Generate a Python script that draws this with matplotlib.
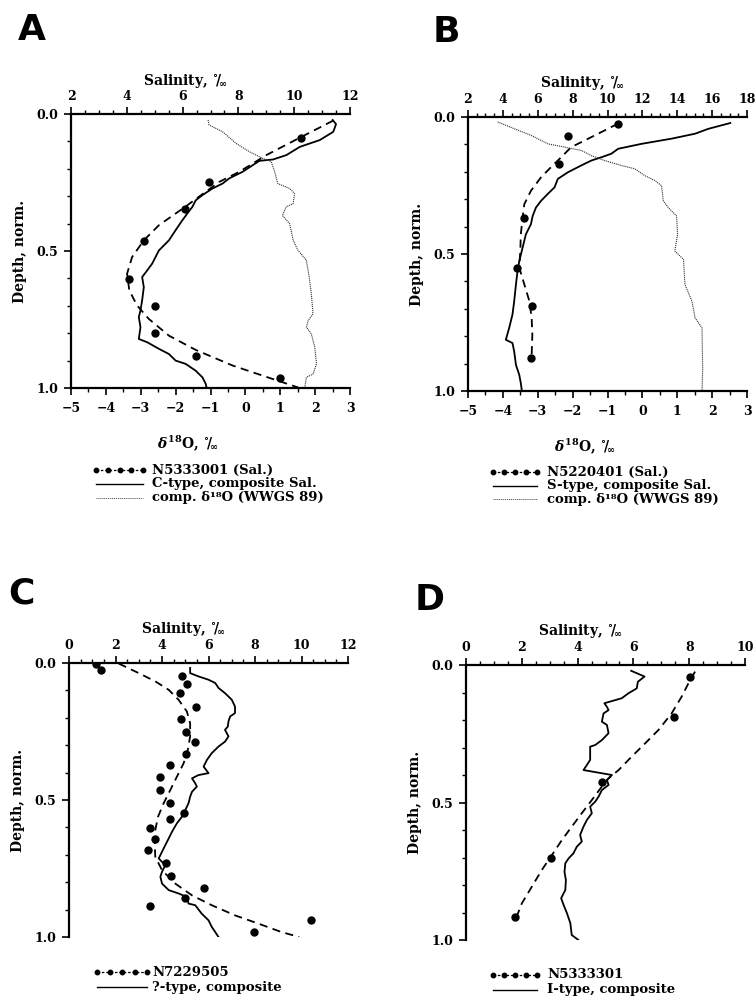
import matplotlib
matplotlib.use('Agg')
import matplotlib.pyplot as plt
from matplotlib.ticker import MultipleLocator, FormatStrFormatter
from matplotlib.lines import Line2D

plt.rcParams['font.family'] = ['DejaVu Serif']
plt.rcParams['mathtext.fontset'] = 'dejavuserif'
plt.rcParams['font.weight'] = 'bold'

# ---------------- Panel A ----------------
a_dot_sal = [10.23, 6.93, 6.09, 4.61, 4.07, 5.00, 5.00, 6.47, 9.48]
a_dot_dep = [0.089, 0.248, 0.345, 0.463, 0.604, 0.701, 0.799, 0.884, 0.963]
a_fit_sal = [11.40, 10.23, 9.00, 8.03, 7.31, 6.09, 5.15, 4.61, 4.19, 4.01, 4.09, 4.37,
             4.79, 5.51, 6.47, 7.79, 8.99, 10.14]
a_fit_dep = [0.024, 0.085, 0.150, 0.211, 0.248, 0.339, 0.406, 0.461, 0.522, 0.583, 0.644,
             0.699, 0.748, 0.809, 0.861, 0.918, 0.959, 0.998]
a_comp_sal = [11.38, 11.50, 11.40, 10.92, 10.20, 9.72, 9.24, 8.75, 8.51, 8.15, 7.67, 7.43,
              7.07, 6.71, 6.47, 6.35, 6.17, 5.99, 5.75, 5.51, 5.15, 5.03, 4.91, 4.73, 4.55,
              4.61, 4.55, 4.49, 4.43, 4.49, 4.43, 4.73, 5.15, 5.51, 5.75, 6.11, 6.47, 6.71,
              6.83, 6.86]
a_comp_dep = [0.022, 0.037, 0.065, 0.095, 0.120, 0.150, 0.166, 0.171, 0.187, 0.211, 0.235,
              0.254, 0.272, 0.296, 0.315, 0.339, 0.363, 0.388, 0.424, 0.461, 0.498, 0.522,
              0.546, 0.571, 0.595, 0.632, 0.680, 0.717, 0.741, 0.778, 0.821, 0.833, 0.857,
              0.876, 0.900, 0.912, 0.937, 0.961, 0.985, 1.000]
a_d18_val = [-1.07, -1.04, -0.65, -0.27, 0.12, 0.50, 0.74, 0.84, 0.93, 1.27, 1.41, 1.37,
             1.17, 1.06, 1.27, 1.37, 1.51, 1.75, 1.83, 1.89, 1.94, 1.80, 1.75, 1.89, 1.99,
             2.04, 1.94, 1.75, 1.70]
a_d18_dep = [0.022, 0.040, 0.065, 0.107, 0.138, 0.162, 0.174, 0.211, 0.254, 0.272, 0.290,
             0.327, 0.339, 0.370, 0.400, 0.461, 0.498, 0.534, 0.595, 0.656, 0.729, 0.754,
             0.778, 0.802, 0.851, 0.912, 0.949, 0.961, 1.000]

# ---------------- Panel B ----------------
b_dot_sal = [10.61, 7.76, 7.21, 5.19, 4.80, 5.67, 5.61]
b_dot_dep = [0.027, 0.071, 0.171, 0.367, 0.550, 0.688, 0.880]
b_fit_sal = [10.61, 9.65, 8.68, 7.92, 7.34, 6.76, 6.19, 5.61, 5.23, 5.13, 5.03, 5.00, 4.94,
             5.23, 5.52, 5.65, 5.69, 5.65]
b_fit_dep = [0.024, 0.055, 0.086, 0.110, 0.147, 0.183, 0.220, 0.269, 0.318, 0.367, 0.428,
             0.489, 0.550, 0.611, 0.672, 0.733, 0.795, 0.868]
b_comp_sal = [17.04, 15.79, 15.02, 13.68, 11.95, 10.61, 10.22, 9.65, 9.07, 8.49, 7.72, 7.15,
              6.96, 6.57, 6.19, 5.90, 5.71, 5.61, 5.32, 5.13, 4.94, 4.84, 4.75, 4.65, 4.55,
              4.36, 4.17, 4.55, 4.65, 4.75, 4.94, 5.03, 5.09]
b_comp_dep = [0.022, 0.043, 0.061, 0.079, 0.098, 0.116, 0.134, 0.147, 0.159, 0.177, 0.202,
              0.226, 0.257, 0.281, 0.306, 0.330, 0.361, 0.391, 0.428, 0.477, 0.526, 0.562,
              0.611, 0.672, 0.721, 0.770, 0.813, 0.825, 0.856, 0.905, 0.941, 0.972, 1.000]
b_d18_val = [-4.15, -3.67, -3.19, -2.71, -2.23, -1.75, -1.46, -1.08, -0.60, -0.22, 0.07,
             0.36, 0.55, 0.60, 0.74, 0.98, 1.01, 0.93, 1.18, 1.22, 1.42, 1.51, 1.71, 1.72,
             1.73, 1.71]
b_d18_dep = [0.018, 0.043, 0.067, 0.098, 0.110, 0.122, 0.141, 0.159, 0.177, 0.189, 0.214,
             0.232, 0.251, 0.306, 0.330, 0.361, 0.428, 0.489, 0.520, 0.611, 0.672, 0.733,
             0.770, 0.856, 0.917, 1.000]

# ---------------- Panel C ----------------
c_dot_sal = [1.14, 1.37, 4.86, 5.07, 4.76, 5.47, 4.83, 5.04, 5.43, 5.04, 4.36, 3.90, 3.90,
             4.33, 4.93, 4.33, 3.50, 3.69, 3.40, 4.19, 4.40, 5.80, 5.00, 3.50, 10.43, 7.97]
c_dot_dep = [0.002, 0.027, 0.049, 0.076, 0.111, 0.161, 0.205, 0.250, 0.290, 0.333, 0.373,
             0.416, 0.463, 0.510, 0.546, 0.571, 0.601, 0.644, 0.684, 0.729, 0.776, 0.821,
             0.857, 0.888, 0.937, 0.983]
c_fit_sal = [2.14, 3.00, 3.71, 4.29, 4.71, 5.07, 5.21, 5.21, 5.11, 4.93, 4.64, 4.36, 4.07,
             3.83, 3.71, 3.69, 3.71, 4.00, 4.57, 5.29, 6.14, 7.14, 8.14, 9.14, 9.90]
c_fit_dep = [0.002, 0.037, 0.067, 0.098, 0.134, 0.177, 0.220, 0.268, 0.317, 0.366, 0.415,
             0.463, 0.512, 0.561, 0.610, 0.659, 0.707, 0.756, 0.805, 0.848, 0.884, 0.921,
             0.951, 0.982, 1.000]
c_comp_sal = [5.21, 5.21, 5.57, 6.00, 6.29, 6.43, 6.71, 7.00, 7.14, 7.14, 6.93, 6.86, 6.83,
              6.71, 6.86, 6.71, 6.43, 6.14, 5.93, 5.79, 6.00, 5.57, 5.29, 5.43, 5.50, 5.29,
              5.21, 5.14, 5.00, 4.86, 4.64, 4.43, 4.29, 4.14, 4.00, 3.86, 4.00, 4.14, 4.00,
              3.93, 4.00, 4.29, 4.71, 5.07, 5.14, 5.43, 5.71, 6.00, 6.14, 6.29, 6.43]
c_comp_dep = [0.018, 0.037, 0.049, 0.061, 0.073, 0.091, 0.110, 0.134, 0.159, 0.183, 0.195,
              0.213, 0.232, 0.244, 0.268, 0.287, 0.305, 0.329, 0.354, 0.378, 0.402, 0.409,
              0.421, 0.439, 0.451, 0.470, 0.488, 0.512, 0.537, 0.561, 0.585, 0.616, 0.640,
              0.665, 0.689, 0.713, 0.726, 0.738, 0.762, 0.780, 0.805, 0.829, 0.841, 0.854,
              0.878, 0.884, 0.915, 0.939, 0.963, 0.982, 1.000]

# ---------------- Panel D ----------------
d_dot_sal = [8.03, 7.47, 4.87, 3.05, 1.77]
d_dot_dep = [0.045, 0.188, 0.427, 0.703, 0.918]
d_fit_sal = [8.21, 7.97, 7.73, 7.37, 6.90, 6.42, 5.94, 5.47, 5.11, 4.87, 4.51, 4.15, 3.79,
             3.44, 3.08, 2.72, 2.36, 2.00, 1.77]
d_fit_dep = [0.024, 0.067, 0.115, 0.176, 0.236, 0.285, 0.333, 0.382, 0.412, 0.442, 0.491,
             0.539, 0.588, 0.636, 0.691, 0.745, 0.806, 0.867, 0.927]
d_comp_sal = [5.92, 6.40, 6.16, 6.12, 5.82, 5.58, 4.96, 5.05, 5.11, 4.93, 4.87, 5.05, 5.11,
              4.87, 4.63, 4.45, 4.45, 4.33, 4.21, 5.23, 5.05, 5.11, 4.87, 4.75, 4.63, 4.45,
              4.51, 4.33, 4.21, 4.09, 4.15, 3.97, 3.85, 3.68, 3.56, 3.53, 3.58, 3.56, 3.41,
              3.50, 3.62, 3.74, 3.79, 4.03]
d_comp_dep = [0.021, 0.042, 0.061, 0.085, 0.103, 0.121, 0.139, 0.152, 0.164, 0.176, 0.206,
              0.218, 0.248, 0.273, 0.291, 0.297, 0.345, 0.364, 0.382, 0.400, 0.418, 0.436,
              0.455, 0.479, 0.497, 0.515, 0.539, 0.564, 0.588, 0.618, 0.642, 0.661, 0.685,
              0.703, 0.721, 0.752, 0.782, 0.818, 0.848, 0.873, 0.903, 0.939, 0.982, 1.000]

sal_label = r"Salinity, $^{\circ}\!/_{\!\infty}$"
d18_label = r"$\delta^{18}$O, $^{\circ}\!/_{\!\infty}$"

W, H = 755, 1000
fig = plt.figure(figsize=(W / 100, H / 100), dpi=100)

LW = 1.3
SP = 1.6
TICKFS = 9


def px_axes(left, top, right, bottom):
    return fig.add_axes([left / W, 1 - bottom / H, (right - left) / W, (bottom - top) / H])


def style_top(ax):
    ax.xaxis.tick_top()
    ax.xaxis.set_label_position('top')
    ax.tick_params(axis='x', which='major', direction='out', length=5, width=1.2,
                   labelsize=TICKFS, pad=3, top=True, bottom=False,
                   labeltop=True, labelbottom=False)
    ax.tick_params(axis='x', which='minor', direction='out', length=3, width=1.0,
                   top=True, bottom=False)


def setup(ax, sal_lim, bottom_axis, label_y):
    ax.set_xlim(*sal_lim)
    ax.set_ylim(1.0, 0.0)
    ax.xaxis.set_major_locator(MultipleLocator(2))
    ax.xaxis.set_minor_locator(MultipleLocator(0.5))
    ax.yaxis.set_major_locator(MultipleLocator(0.5))
    ax.yaxis.set_minor_locator(MultipleLocator(0.1))
    ax.yaxis.set_major_formatter(FormatStrFormatter('%.1f'))
    ax.tick_params(axis='y', which='major', direction='out', length=5, width=1.2,
                   labelsize=TICKFS, pad=4)
    ax.tick_params(axis='y', which='minor', direction='out', length=3, width=1.0)
    ax.spines['right'].set_visible(False)
    ax.spines['bottom'].set_visible(False)
    ax.spines['top'].set_linewidth(SP)
    ax.spines['left'].set_linewidth(SP)
    ax.text(0.41, label_y, sal_label, transform=ax.transAxes, ha='center', va='center',
            fontsize=10, fontweight='bold')
    ax.set_ylabel("Depth, norm.", fontsize=10, fontweight='bold')
    ax.yaxis.set_label_coords(-0.158, 0.5)
    axd = None
    if bottom_axis:
        axd = ax.twiny()
        axd.set_xlim(-5, 3)
        axd.set_ylim(1.0, 0.0)
        axd.xaxis.tick_bottom()
        axd.xaxis.set_label_position('bottom')
        axd.xaxis.set_major_locator(MultipleLocator(1))
        axd.xaxis.set_minor_locator(MultipleLocator(0.5))
        axd.tick_params(axis='x', which='major', direction='out', length=5, width=1.2,
                        labelsize=TICKFS, pad=5, top=False, bottom=True,
                        labeltop=False, labelbottom=True)
        axd.tick_params(axis='x', which='minor', direction='out', length=3, width=1.0,
                        top=False, bottom=True)
        for s in ['top', 'right', 'left']:
            axd.spines[s].set_visible(False)
        axd.spines['bottom'].set_visible(True)
        axd.spines['bottom'].set_linewidth(SP)
        axd.text(0.42, -0.20, d18_label, transform=axd.transAxes, ha='center',
                 va='center', fontsize=10, fontweight='bold')
    style_top(ax)
    return axd


def draw_sal(ax, dot_s, dot_d, fit_s, fit_d, comp_s, comp_d):
    ax.plot(fit_s, fit_d, color='black', lw=LW, ls=(0, (4.5, 3)))
    ax.plot(comp_s, comp_d, color='black', lw=LW, ls='-')
    ax.plot(dot_s, dot_d, 'o', color='black', ms=5, ls='none')


def legend(x0, x1, xt, ys, labels, kinds):
    for y, lab, kind in zip(ys, labels, kinds):
        yf = 1 - y / H
        if kind == 'dots':
            n = 5
            xs = [(x0 + (x1 - x0) * i / (n - 1)) / W for i in range(n)]
            fig.add_artist(Line2D(xs, [yf] * n, color='black', lw=0.9, ls=(0, (2, 1.5)),
                                  marker='o', ms=3.2, transform=fig.transFigure))
        elif kind == 'solid':
            fig.add_artist(Line2D([x0 / W, x1 / W], [yf, yf], color='black', lw=1.0,
                                  transform=fig.transFigure))
        else:
            fig.add_artist(Line2D([x0 / W, x1 / W], [yf, yf], color='#444444', lw=0.7,
                                  ls=(0, (1, 1)), transform=fig.transFigure))
        fig.text(xt / W, yf, lab, ha='left', va='center', fontsize=9.5,
                 fontweight='bold', family='DejaVu Serif')


# Panel A
axA = px_axes(71, 114, 350, 388)
axAd = setup(axA, (2, 12), True, 1.12)
draw_sal(axA, a_dot_sal, a_dot_dep, a_fit_sal, a_fit_dep, a_comp_sal, a_comp_dep)
axAd.plot(a_d18_val, a_d18_dep, color='#333333', lw=0.8, ls=(0, (1, 0.8)))

# Panel B
axB = px_axes(468, 117, 747, 391)
axBd = setup(axB, (2, 18), True, 1.125)
draw_sal(axB, b_dot_sal, b_dot_dep, b_fit_sal, b_fit_dep, b_comp_sal, b_comp_dep)
axBd.plot(b_d18_val, b_d18_dep, color='#333333', lw=0.8, ls=(0, (1, 0.8)))

# Panel C
axC = px_axes(69, 663, 348, 937)
setup(axC, (0, 12), False, 1.125)
draw_sal(axC, c_dot_sal, c_dot_dep, c_fit_sal, c_fit_dep, c_comp_sal, c_comp_dep)

# Panel D
axD = px_axes(466, 665, 745, 940)
setup(axD, (0, 10), False, 1.125)
draw_sal(axD, d_dot_sal, d_dot_dep, d_fit_sal, d_fit_dep, d_comp_sal, d_comp_dep)

# Panel letters
for lx, ly, letter in [(18, 40, 'A'), (433, 42, 'B'), (8, 603, 'C'), (415, 610, 'D')]:
    fig.text(lx / W, 1 - ly / H, letter, fontsize=26, fontweight='heavy',
             family='DejaVu Sans', ha='left', va='baseline')

d18_leg = "comp. \u03b4\u00b9\u2078O (WWGS 89)"
legend(96, 143, 152, [470, 484, 498],
       ["N5333001 (Sal.)", "C-type, composite Sal.", d18_leg],
       ['dots', 'solid', 'dotted'])
legend(493, 537, 547, [472, 486, 499],
       ["N5220401 (Sal.)", "S-type, composite Sal.", d18_leg],
       ['dots', 'solid', 'dotted'])
legend(97, 147, 152, [972, 987],
       ["N7229505", "?-type, composite"], ['dots', 'solid'])
legend(493, 537, 547, [975, 990],
       ["N5333301", "I-type, composite"], ['dots', 'solid'])

fig.savefig('out.png', dpi=100)
